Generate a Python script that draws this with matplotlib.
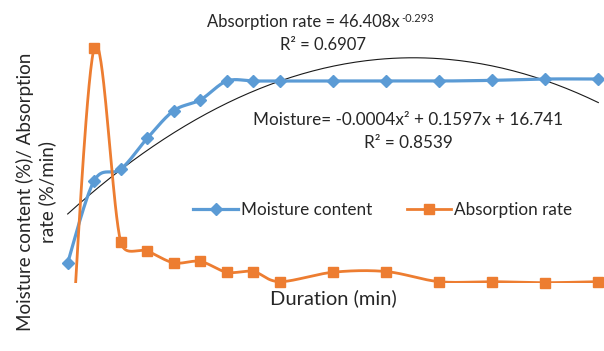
import numpy as np
import matplotlib
matplotlib.use("Agg")
import matplotlib.pyplot as plt
from matplotlib.lines import Line2D

# Duration (min) and the two measured series
duration = [0, 5, 10, 15, 20, 25, 30, 35, 40, 50, 60, 70, 80, 90, 100]
moisture = [3.0, 15.2, 16.9, 21.5, 25.6, 27.2, 30.0, 30.0, 30.0, 30.0, 30.0, 30.0, 30.1, 30.3, 30.3]
absorption = [-20.0, 34.9, 6.1, 4.75, 3.0, 3.2, 1.6, 1.7, 0.2, 1.6, 1.7, 0.2, 0.2, 0.05, 0.2]

# points (quadratic)
trend_t = [0, 40, 100]
trend_y = [10.25, 30.0, 26.8]

BLUE = "#5B9BD5"
ORANGE = "#ED7D31"
TEXT = "#262626"

plt.rcParams['font.family'] = ['Lato', 'DejaVu Sans']

XPX, YPX = 5.306, 6.733  # px per data unit, used only for smoothing


# smoothed line like Excel's: bezier with 1/6 tangents, handles kept short on short segments
def smooth(x, y, n=40, clamp=0.6):
    p = np.column_stack([np.asarray(x, float) * XPX, np.asarray(y, float) * YPX])
    m = len(p)
    out = []
    for i in range(m - 1):
        p0 = p[i - 1] if i > 0 else p[i]
        p1, p2 = p[i], p[i + 1]
        p3 = p[i + 2] if i + 2 < m else p[i + 1]
        d = np.hypot(*(p2 - p1))
        h1 = (p2 - p0) / 6
        h2 = (p3 - p1) / 6
        for h in (h1, h2):
            ln = np.hypot(*h)
            if ln > clamp * d:
                h *= clamp * d / ln
        c1 = p1 + h1
        c2 = p2 - h2
        s = np.linspace(0, 1, n)[:, None]
        seg = (1 - s) ** 3 * p1 + 3 * (1 - s) ** 2 * s * c1 + 3 * (1 - s) * s ** 2 * c2 + s ** 3 * p2
        out.append(seg if i == 0 else seg[1:])
    out = np.vstack(out)
    return out[:, 0] / XPX, out[:, 1] / YPX


fig = plt.figure(figsize=(6.04, 3.51), dpi=100)
ax = fig.add_axes([62 / 604, (351 - 283) / 351, 542 / 604, 273 / 351])
ax.set_xlim(-1.07, 101.07)
ax.set_ylim(0, 40.55)
ax.axis('off')

# moisture trendline
coef = np.polyfit(trend_t, trend_y, 2)
tt = np.linspace(duration[0], duration[-1], 200)
ax.plot(tt, np.polyval(coef, tt), color='#1a1a1a', lw=0.8, zorder=2)

sx, sy = smooth(duration, moisture)
ax.plot(sx, sy, color=BLUE, lw=2.3, zorder=3)
ax.plot(duration, moisture, ls='none', marker='D', ms=6, color=BLUE, zorder=4, clip_on=False)

sx, sy = smooth(duration, absorption)
ax.plot(sx, sy, color=ORANGE, lw=2.0, zorder=3)
vis = [(d, a) for d, a in zip(duration, absorption) if a >= 0]
ax.plot([v[0] for v in vis], [v[1] for v in vis], ls='none', marker='s', ms=6.5,
        color=ORANGE, zorder=4, clip_on=False)

# trendline equations
eq1 = fig.text(207 / 604, 1 - 22 / 351, 'Absorption rate = 46.408x',
               ha='left', va='center', fontsize=12, color=TEXT)
fig.canvas.draw()
bb = eq1.get_window_extent()
fig.text(bb.x1 / fig.bbox.width + 0.002, 1 - 18 / 351, '-0.293', ha='left', va='center',
         fontsize=8, color=TEXT)
fig.text(323 / 604, 1 - 45 / 351, 'R² = 0.6907', ha='center', va='center', fontsize=12, color=TEXT)
fig.text(408 / 604, 1 - 120 / 351, 'Moisture= -0.0004x² + 0.1597x + 16.741',
         ha='center', va='center', fontsize=12.3, color=TEXT)
fig.text(408 / 604, 1 - 143 / 351, 'R² = 0.8539', ha='center', va='center', fontsize=12.3, color=TEXT)

# axis titles
fig.text(36 / 604, 1 - 192 / 351, 'Moisture content (%)/ Absorption\nrate (%/min)',
         rotation=90, ha='center', va='center', multialignment='center',
         fontsize=13.5, color=TEXT, linespacing=1.25)
fig.text(333 / 604, 1 - 298 / 351, 'Duration (min)', ha='center', va='center',
         fontsize=14.5, color=TEXT)

handles = [
    Line2D([], [], color=BLUE, lw=2.3, marker='D', ms=6),
    Line2D([], [], color=ORANGE, lw=2.0, marker='s', ms=6.5),
]
fig.legend(handles, ['Moisture content', 'Absorption rate'], loc='center',
           bbox_to_anchor=(383 / 604, 1 - 210 / 351), ncol=2, frameon=False,
           fontsize=12.3, handlelength=2.6, handletextpad=0.2, columnspacing=2.0,
           labelcolor=TEXT)

fig.savefig('out.png', dpi=100)
